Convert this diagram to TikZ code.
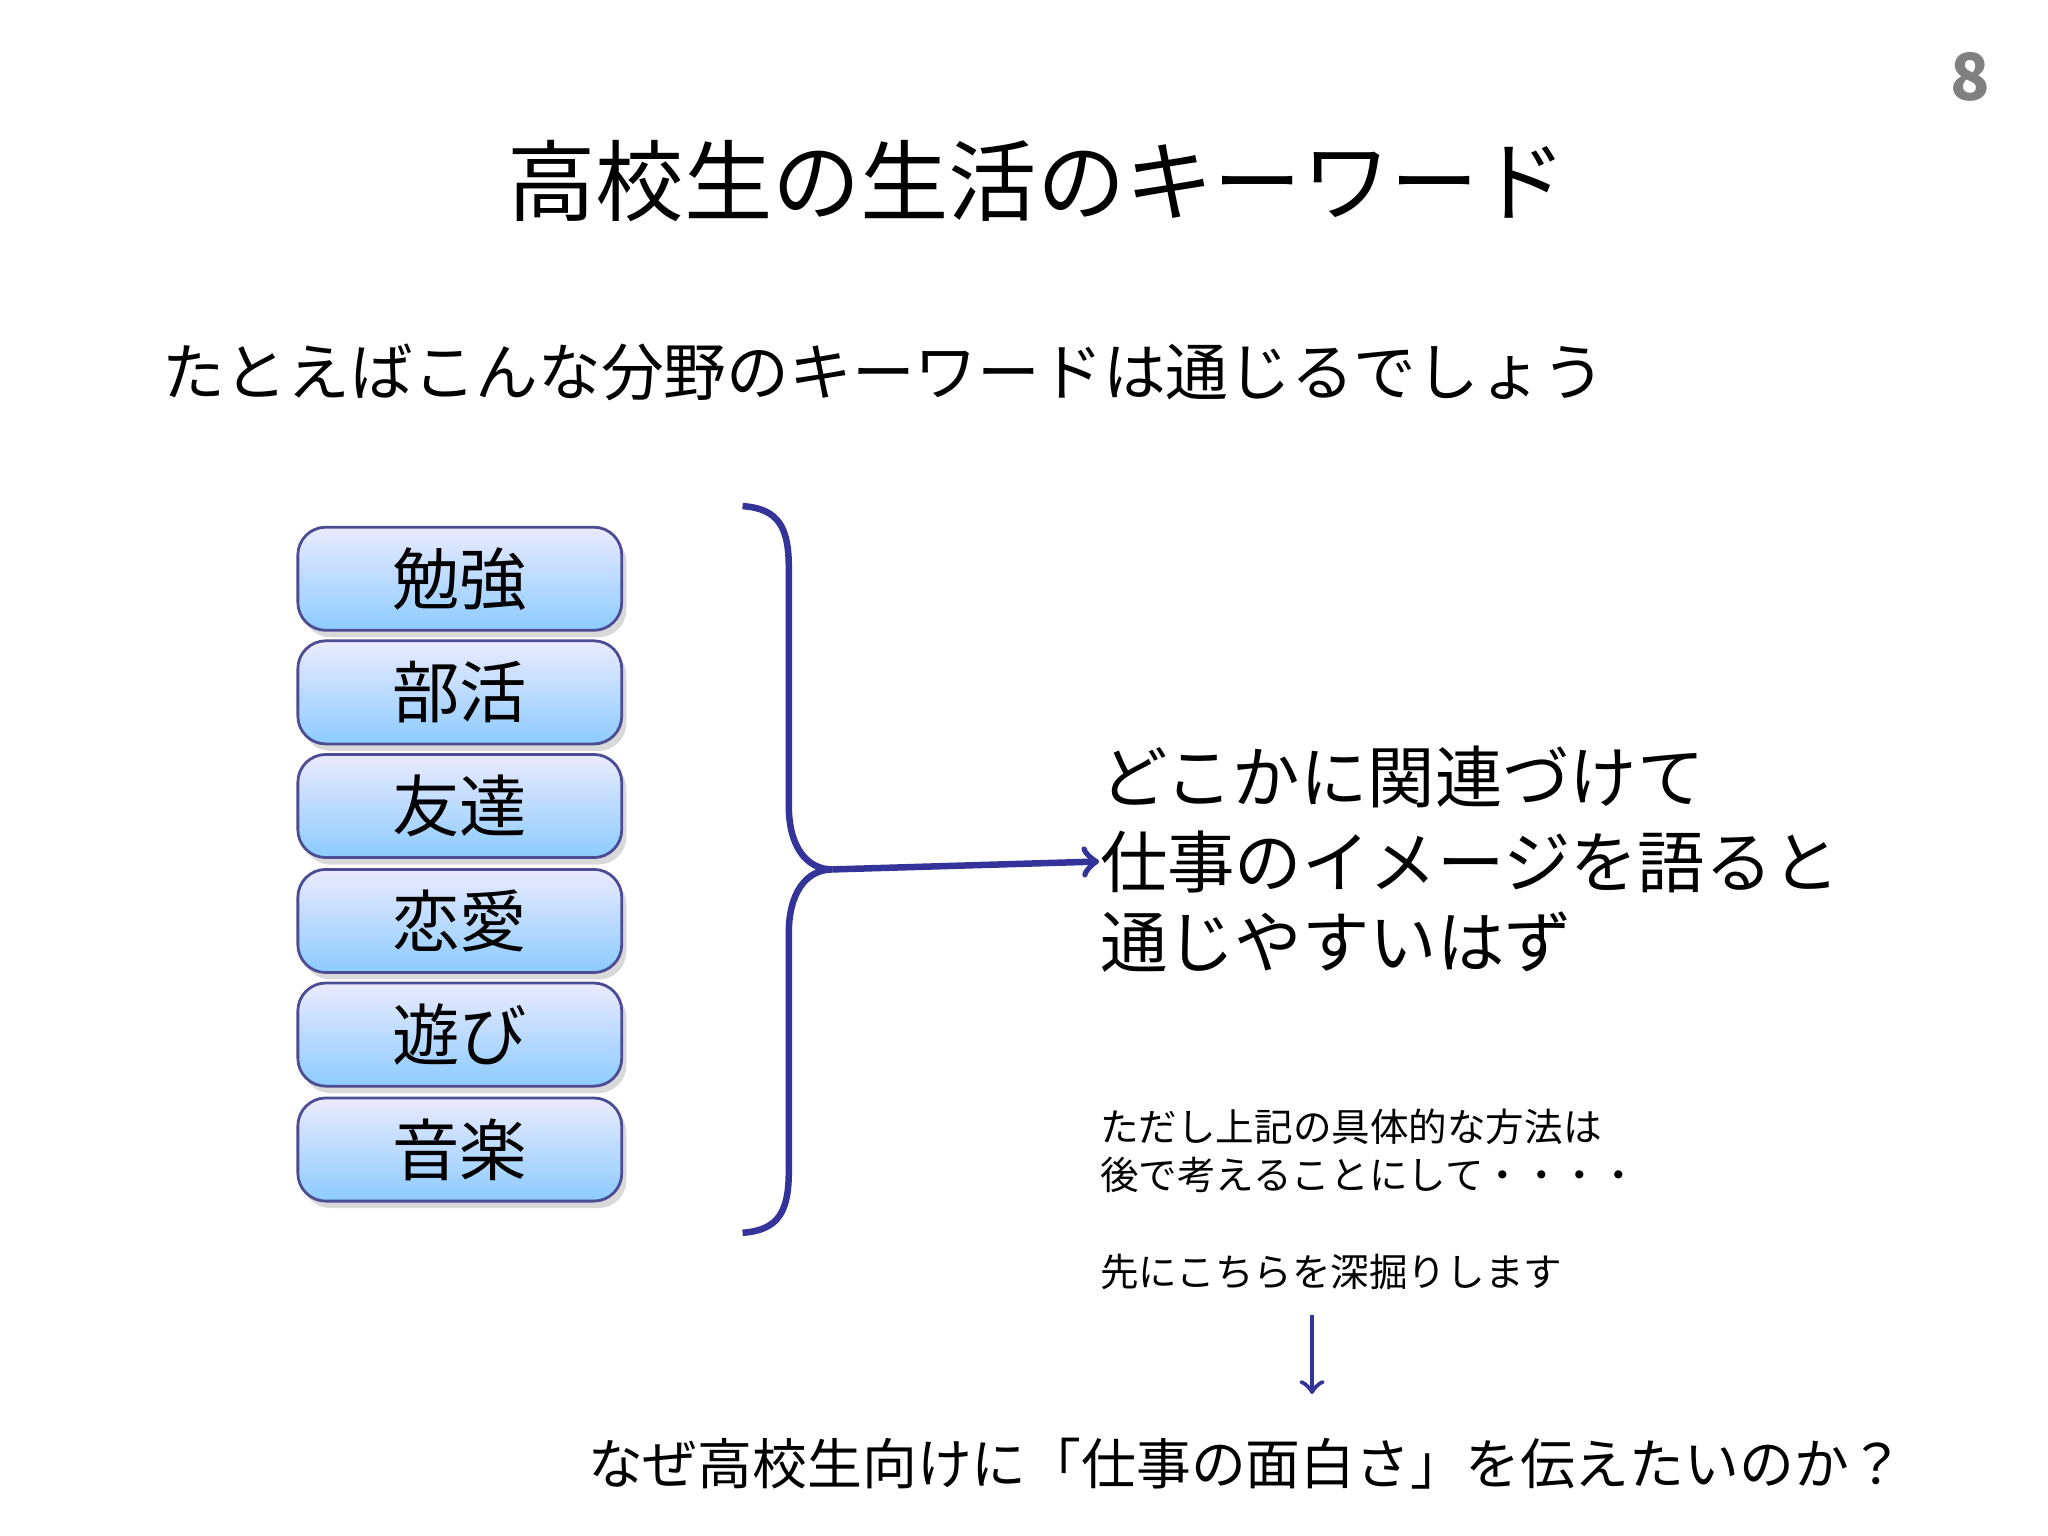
\documentclass[tikz,border=0pt]{standalone}
\usepackage{fontspec}
\setmainfont{Noto Sans CJK JP}
\usetikzlibrary{shadows}
\begin{document}
\begin{tikzpicture}[x=0.01cm,y=-0.01cm,
 box/.style={draw=black!30!blue!40!gray,line width=0.6pt,rounded corners=6pt,minimum width=2.45cm,minimum height=0.78cm,top color=blue!8,bottom color=blue!45!cyan!45,drop shadow={opacity=0.3,shadow xshift=1pt,shadow yshift=-1.5pt},font=\fontsize{14.5pt}{16pt}\selectfont,inner sep=0pt},
 ln/.style={draw=blue!50!gray!80!black,line width=1.4pt},
 big/.style={font=\fontsize{14.5pt}{18pt}\selectfont,anchor=west,inner sep=0pt},
 small/.style={font=\fontsize{8.3pt}{10pt}\selectfont,anchor=west,inner sep=0pt}]
\useasboundingbox (0,0) rectangle (1550,1162);
\node[font=\bfseries\fontsize{14pt}{16pt}\selectfont,text=gray] (pg) at (1491,58) {8};
\node[font=\fontsize{19pt}{22pt}\selectfont] (title) at (785,137) {高校生の生活のキーワード};
\node[font=\fontsize{13.5pt}{16pt}\selectfont,anchor=west,inner sep=0pt] (sub) at (122,282) {たとえばこんな分野のキーワードは通じるでしょう};
\node[box] (b1) at (348,438) {勉強};
\node[box] (b2) at (348,524) {部活};
\node[box] (b3) at (348,610) {友達};
\node[box] (b4) at (348,697) {恋愛};
\node[box] (b5) at (348,783) {遊び};
\node[box] (b6) at (348,870) {音楽};
\coordinate (btop) at (562,383);
\coordinate (bmid) at (630,658);
\coordinate (bbot) at (562,933);
\draw[ln] (btop) .. controls (590,385) and (597,400) .. (597,430) -- (597,610) .. controls (597,640) and (610,658) .. (bmid) .. controls (610,658) and (597,676) .. (597,706) -- (597,886) .. controls (597,916) and (590,931) .. (bbot);
\node[big] (r1) at (832,588) {どこかに関連づけて};
\node[big] (r2) at (832,652) {仕事のイメージを語ると};
\node[big] (r3) at (832,713) {通じやすいはず};
\draw[ln,->] (bmid) -- (r2.west);
\node[small] (s1) at (832,853) {ただし上記の具体的な方法は};
\node[small] (s2) at (832,889) {後で考えることにして・・・・};
\node[small] (s3) at (832,963) {先にこちらを深掘りします};
\node[font=\fontsize{11.8pt}{14pt}\selectfont,inner sep=0pt] (q) at (943,1108) {なぜ高校生向けに「仕事の面白さ」を伝えたいのか？};
\coordinate (a1) at (993,995);
\coordinate (a2) at (993,1055);
\draw[ln,line width=1pt,->] (a1) -- (a2);
\end{tikzpicture}
\end{document}
